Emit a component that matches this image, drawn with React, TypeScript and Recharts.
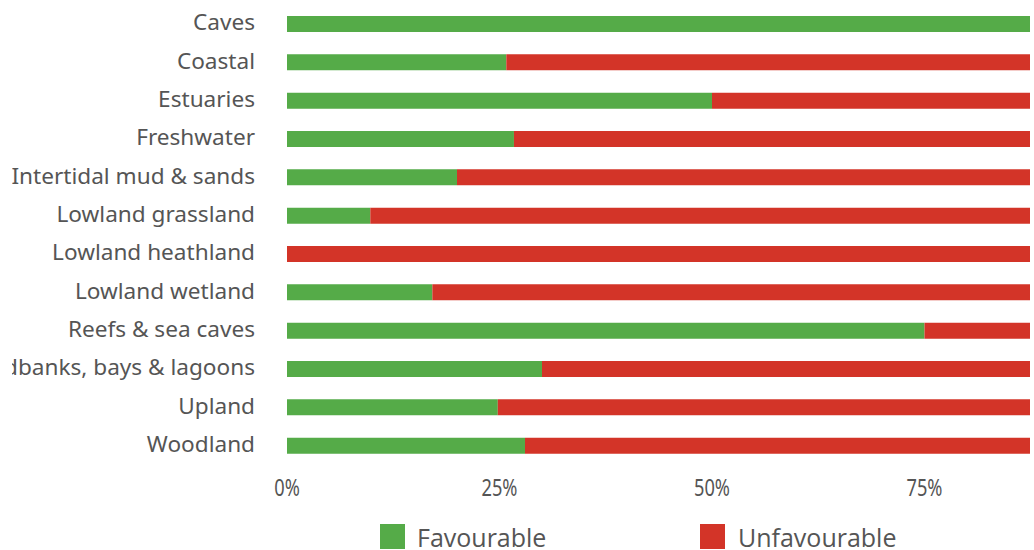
import React from "react";
import { BarChart, Bar, XAxis, YAxis, Legend } from "recharts";

const categories = [
  "Caves",
  "Coastal",
  "Estuaries",
  "Freshwater",
  "Intertidal mud & sands",
  "Lowland grassland",
  "Lowland heathland",
  "Lowland wetland",
  "Reefs & sea caves",
  "Sandbanks, bays & lagoons",
  "Upland",
  "Woodland",
];
const favourable = [100, 25.8, 50, 26.7, 20, 9.8, 0, 17.1, 75, 30, 24.8, 28];
const unfavourable = [0, 74.2, 50, 73.3, 80, 90.2, 100, 82.9, 25, 70, 75.2, 72];
const xTicks = [0, 25, 50, 75, 100];

const GREEN = "#55ab48";
const RED = "#d33428";
const TEXT = "#555555";

const data = categories.map((name, i) => ({
  name,
  Favourable: favourable[i],
  Unfavourable: unfavourable[i],
}));

const XTick = (props: any) => {
  const { x, y, payload } = props;
  return (
    <g transform={`translate(${x},${y})`}>
      <text
        transform="scale(0.76,1)"
        textAnchor="middle"
        dy="0.71em"
        fill={TEXT}
        fontFamily="Noto Sans"
        fontSize={24}
      >
        {`${payload.value}%`}
      </text>
    </g>
  );
};

const YTick = (props: any) => {
  const { x, y, payload } = props;
  return (
    <text
      x={x}
      y={y}
      dy="0.27em"
      textAnchor="end"
      fill={TEXT}
      fontFamily="Noto Sans"
      fontSize={22.6}
    >
      {payload.value}
    </text>
  );
};

const legendText: React.CSSProperties = {
  position: "absolute",
  top: 0,
  fontFamily: "Open Sans",
  fontSize: 25,
  color: TEXT,
  whiteSpace: "nowrap",
  lineHeight: "26px",
};

const LegendContent = () => (
  <div style={{ position: "relative", height: 26, width: 1000 }}>
    <div style={{ position: "absolute", left: 368, top: 0, width: 25, height: 25, background: GREEN }} />
    <div style={{ ...legendText, left: 405 }}>Favourable</div>
    <div style={{ position: "absolute", left: 688, top: 0, width: 25, height: 25, background: RED }} />
    <div style={{ ...legendText, left: 726 }}>Unfavourable</div>
  </div>
);

export default function App() {
  return (
    <div
      style={{
        position: "absolute",
        left: 12,
        top: 0,
        width: 1018,
        height: 550,
        overflow: "hidden",
        background: "#ffffff",
      }}
    >
      <BarChart
        width={1130}
        height={550}
        data={data}
        layout="vertical"
        margin={{ top: 5, right: 5, bottom: 0, left: 0 }}
        barSize={16}
      >
        <XAxis
          type="number"
          domain={[0, 100]}
          ticks={xTicks}
          axisLine={false}
          tickLine={false}
          tickSize={0}
          tickMargin={14}
          height={59}
          tick={<XTick />}
          interval={0}
        />
        <YAxis
          type="category"
          dataKey="name"
          width={275}
          axisLine={false}
          tickLine={false}
          tickSize={0}
          tickMargin={32}
          interval={0}
          tick={<YTick />}
        />
        <Legend
          verticalAlign="bottom"
          content={<LegendContent />}
          wrapperStyle={{ top: 524, left: 0, bottom: undefined }}
        />
        <Bar dataKey="Favourable" stackId="a" fill={GREEN} isAnimationActive={false} />
        <Bar dataKey="Unfavourable" stackId="a" fill={RED} isAnimationActive={false} />
      </BarChart>
    </div>
  );
}
